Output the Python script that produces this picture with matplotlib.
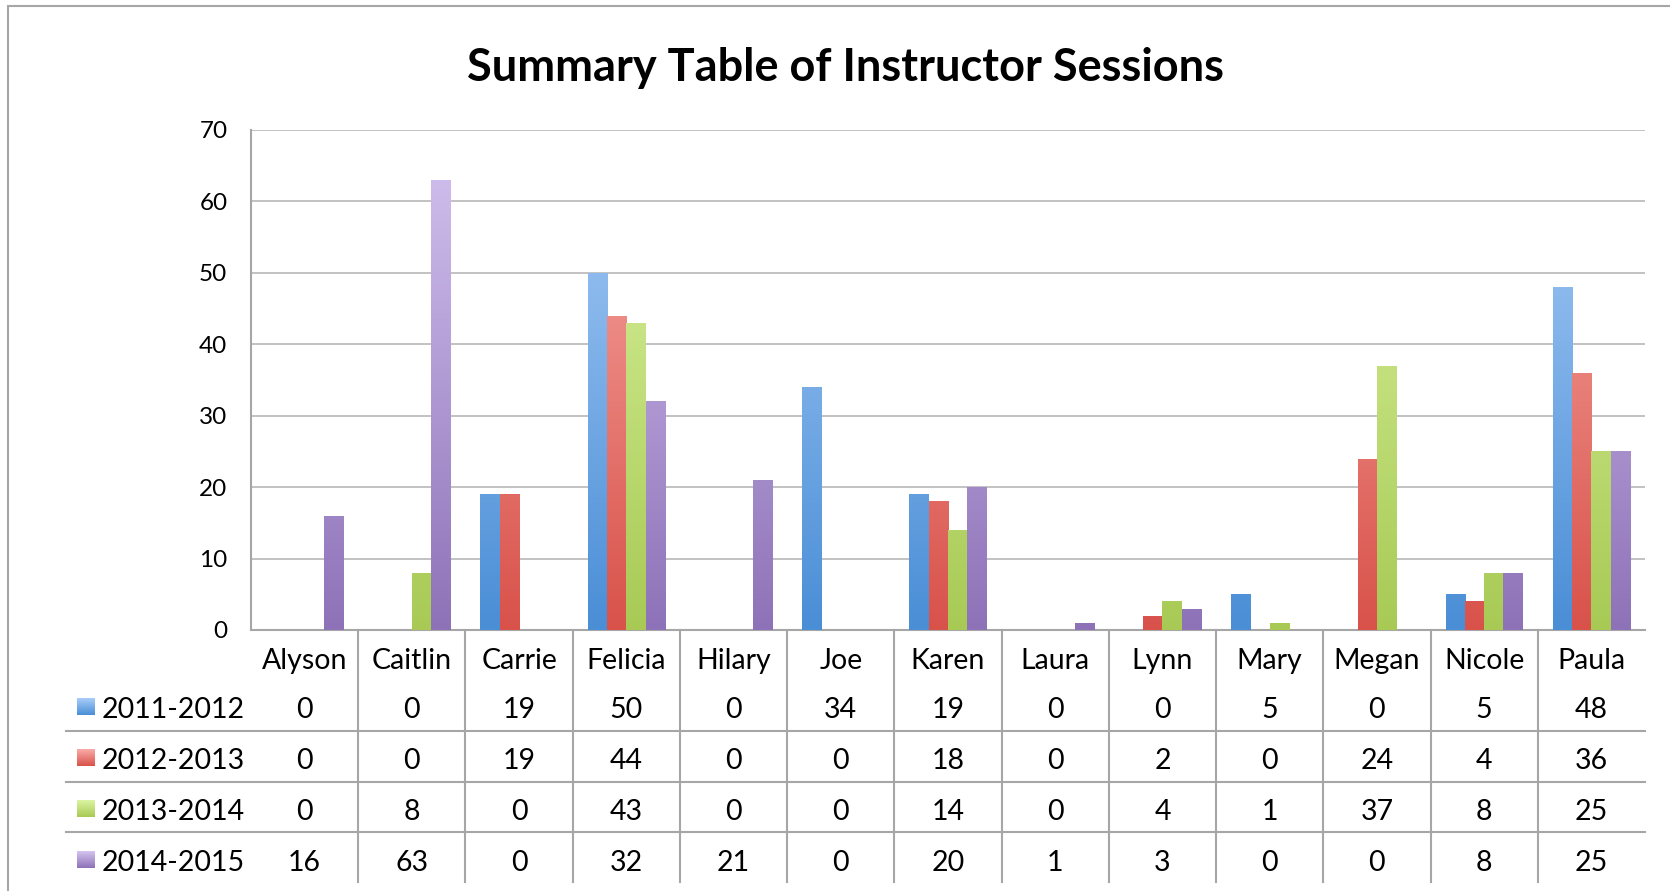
import numpy as np
import matplotlib
matplotlib.use("Agg")
import matplotlib.pyplot as plt
from matplotlib.colors import LinearSegmentedColormap
from matplotlib.patches import Rectangle
from matplotlib.lines import Line2D
import matplotlib.transforms as mtransforms

# -------------------------------
# Data
# -------------------------------
instructors = ["Alyson", "Caitlin", "Carrie", "Felicia", "Hilary", "Joe", "Karen",
               "Laura", "Lynn", "Mary", "Megan", "Nicole", "Paula"]
years = ["2011-2012", "2012-2013", "2013-2014", "2014-2015"]
s2011 = [0, 0, 19, 50, 0, 34, 19, 0, 0, 5, 0, 5, 48]
s2012 = [0, 0, 19, 44, 0, 0, 18, 0, 2, 0, 24, 4, 36]
s2013 = [0, 8, 0, 43, 0, 0, 14, 0, 4, 1, 37, 8, 25]
s2014 = [16, 63, 0, 32, 21, 0, 20, 1, 3, 0, 0, 8, 25]
series = [s2011, s2012, s2013, s2014]

# (top colour, bottom colour) for the gradient fill
colors = [("#a9cdf8", "#4a8ed6"),
          ("#f9aca8", "#d8524a"),
          ("#dcf4a2", "#a8ca55"),
          ("#d4c4f0", "#8e72b8")]

plt.rcParams['font.family'] = ['Lato', 'DejaVu Sans']

W, H = 1670, 891
fig = plt.figure(figsize=(W / 100, H / 100), dpi=100)

def fx(px):
    return px / W

def fy(py):
    return 1 - py / H

# outer frame
fig.patches.append(Rectangle((fx(8), fy(895)), fx(1700), (895 - 6) / H,
                             transform=fig.transFigure, fill=False,
                             edgecolor="#a6a6a6", linewidth=1.5))

ax = fig.add_axes([fx(251), fy(630), fx(1645 - 251), (630 - 130) / H])

n = len(instructors)
x = np.arange(n)
bw = 0.18
offsets = (np.arange(4) - 1.5) * bw

for s, vals in enumerate(series):
    cmap = LinearSegmentedColormap.from_list("g%d" % s, [colors[s][1], colors[s][0]])
    bars = ax.bar(x + offsets[s], vals, bw, color=colors[s][1], linewidth=0, zorder=3)
    grad = np.linspace(0, 1, 256).reshape(-1, 1)
    for b, v in zip(bars, vals):
        if v <= 0:
            continue
        im = ax.imshow(grad, cmap=cmap, origin="lower", aspect="auto",
                       extent=[b.get_x(), b.get_x() + bw, 0, 70], zorder=4)
        im.set_clip_path(b)

ax.set_xlim(-0.5, n - 0.5)
ax.set_ylim(0, 70)
ax.set_yticks(range(0, 71, 10))
ax.yaxis.grid(True, color="#b8b8b8", linewidth=1.2)
ax.set_axisbelow(True)
ax.tick_params(axis="y", length=0, pad=17, labelsize=17.5)
ax.tick_params(axis="x", length=0, labelbottom=False)
for sp in ["top", "right"]:
    ax.spines[sp].set_visible(False)
for sp in ["left", "bottom"]:
    ax.spines[sp].set_color("#a6a6a6")
    ax.spines[sp].set_linewidth(1.5)
for lbl in ax.get_yticklabels():
    lbl.set_verticalalignment("center_baseline")

fig.text(fx(845), fy(68), "Summary Table of Instructor Sessions",
         ha="center", va="center", fontsize=32.5, fontweight="bold")

# -------------------------------
# Data table below the axis
# -------------------------------
trans = mtransforms.blended_transform_factory(ax.transData, fig.transFigure)
line_col = "#a6a6a6"
tsize = 20.5

for i in range(n - 1):
    fig.add_artist(Line2D([i + 0.5, i + 0.5], [fy(630), fy(882)], transform=trans,
                          color=line_col, linewidth=1.5))
for py in [731, 782, 832]:
    fig.add_artist(Line2D([fx(66), fx(1645)], [fy(py), fy(py)],
                          transform=fig.transFigure, color=line_col, linewidth=1.5))

for i, name in enumerate(instructors):
    fig.text(i, fy(661), name, transform=trans, ha="center", va="center", fontsize=tsize)

row_y = [710, 761, 812, 863]
for s, vals in enumerate(series):
    for i, v in enumerate(vals):
        fig.text(i, fy(row_y[s]), str(v), transform=trans, ha="center", va="center",
                 fontsize=tsize)
    # legend key with gradient
    kax = fig.add_axes([fx(77), fy(row_y[s] + 5), fx(18), 17 / H])
    kcmap = LinearSegmentedColormap.from_list("k%d" % s, [colors[s][1], colors[s][0]])
    kax.imshow(np.linspace(0, 1, 64).reshape(-1, 1), cmap=kcmap, origin="lower",
               aspect="auto")
    kax.axis("off")
    fig.text(fx(102), fy(row_y[s]), years[s], ha="left", va="center", fontsize=tsize)

fig.savefig("out.png", dpi=100)
